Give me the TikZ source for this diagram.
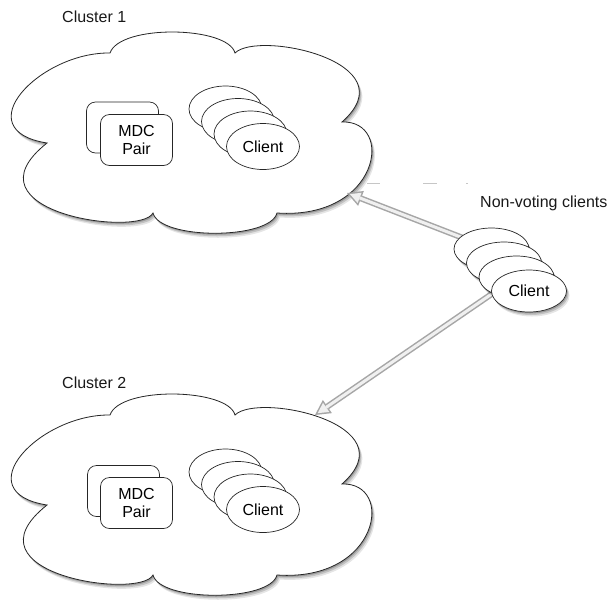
\documentclass[tikz,border=0pt]{standalone}
\usepackage{fontspec}
\setmainfont{Liberation Sans}
\usetikzlibrary{shapes.geometric,shadows,arrows.meta}
\tikzset{
  softshadow/.style={
    drop shadow={shadow xshift=3pt, shadow yshift=-4.5pt, opacity=0.10, fill=black},
    drop shadow={shadow xshift=2pt, shadow yshift=-3pt, opacity=0.15, fill=black},
    drop shadow={shadow xshift=1pt, shadow yshift=-1.5pt, opacity=0.2, fill=black}},
  cloudline/.style={draw=black!85, fill=white, line width=0.8pt, softshadow},
  cloudpic/.pic={
    \path[cloudline] (110,53)
      .. controls (120,24) and (228,26) .. (235,53)
      .. controls (258,30) and (410,62) .. (342,122)
      .. controls (395,120) and (380,220) .. (277,213)
      .. controls (270,240) and (160,240) .. (153,213)
      .. controls (140,238) and (-40,212) .. (47,143)
      .. controls (-35,130) and (40,52) .. (110,53) -- cycle;
  },
  mdcbox/.style={draw=black!85, fill=white, rounded corners=9pt, line width=0.7pt, minimum width=72pt, minimum height=51pt, inner sep=0pt,
    align=center, font=\fontsize{16}{18}\selectfont},
  clientbox/.style={ellipse, draw=black!85, fill=white, line width=0.7pt, minimum width=73pt, minimum height=46pt, inner sep=0pt,
    font=\fontsize{16}{18}\selectfont},
  nvbox/.style={clientbox, minimum width=75pt, minimum height=42pt, softshadow},
  lbl/.style={anchor=west, inner sep=0pt, font=\fontsize{16}{18}\selectfont, text=black!90},
  arrowout/.style={line width=6pt, draw=gray!70, -{Triangle[length=15pt,width=16pt,line width=0pt]}},
  arrowin/.style={line width=3pt, draw=gray!12, shorten >=3.2pt, -{Triangle[length=10.3pt,width=11pt,line width=0pt]}},
}
\begin{document}
\begin{tikzpicture}[x=1pt,y=-1pt]
\useasboundingbox (0,0) rectangle (612,603);
\fill[white] (0,0) rectangle (612,603);

% clouds
\pic (cloudA) at (0,0) {cloudpic};
\pic (cloudB) at (0,362) {cloudpic};

% labels
\node[lbl] (labA) at (62,17) {Cluster 1};
\node[lbl] (labB) at (62,383) {Cluster 2};
\node[lbl] (labNV) at (480,203) {Non-voting clients};

% cluster 1 contents
\node[mdcbox] (mdcA0) at (122.5,127.5) {};
\node[mdcbox] (mdcA1) at (136.5,140) {MDC\\Pair};
\node[clientbox] (cliA3) at (225.5,109) {};
\node[clientbox] (cliA2) at (238,121.5) {};
\node[clientbox] (cliA1) at (250.5,134) {};
\node[clientbox] (cliA0) at (263,146.5) {Client};

% cluster 2 contents
\node[mdcbox] (mdcB0) at (123.5,491) {};
\node[mdcbox] (mdcB1) at (136.5,503) {MDC\\Pair};
\node[clientbox] (cliB3) at (225.5,472) {};
\node[clientbox] (cliB2) at (238,484.5) {};
\node[clientbox] (cliB1) at (250.5,497) {};
\node[clientbox] (cliB0) at (263,509.5) {Client};

% arrow end points on the clouds
\coordinate (tipA) at (347,193);
\coordinate (tipB) at (315,415);
\coordinate (dashS) at (367,183);
\coordinate (dashE) at (468,183);
\coordinate (srcA) at (491.5,249);
\coordinate (srcB) at (516.5,277);

\draw[arrowout] (srcA) -- (tipA);
\draw[arrowin] (srcA) -- (tipA);
\draw[arrowout] (srcB) -- (tipB);
\draw[arrowin] (srcB) -- (tipB);
\draw[gray!45, line width=0.7pt, dash pattern=on 13pt off 43pt on 14pt off 29pt on 2pt] (dashS) -- (dashE);

% non-voting clients
\node[nvbox] (nv3) at (srcA) {};
\node[nvbox] (nv2) at (504,263) {};
\node[nvbox] (nv1) at (srcB) {};
\node[nvbox] (nv0) at (529,291) {Client};
\end{tikzpicture}
\end{document}
